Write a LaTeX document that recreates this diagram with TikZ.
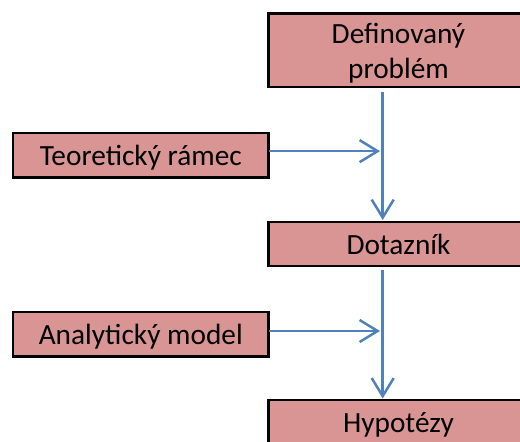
\documentclass[tikz,border=0pt]{standalone}
\usepackage{fontspec}
\setmainfont{Carlito}
\usetikzlibrary{arrows.meta}
\definecolor{boxfill}{HTML}{D99594}
\definecolor{arrblue}{HTML}{4F81BD}
\begin{document}
\begin{tikzpicture}[x=1pt,y=-1pt,
  box/.style={draw=black, line width=2.7pt, fill=boxfill, rectangle, inner sep=0pt, outer sep=0pt, anchor=north west, font=\fontsize{29.3}{35}\selectfont},
  oneline/.style={box, text height=20pt, text depth=0pt},
  arr/.style={draw=arrblue, line width=2.5pt, -{Straight Barb[length=18pt,width=22pt]}}]
\useasboundingbox (0,0) rectangle (520,442);
\clip (0,0) rectangle (520,442);
\node[box, minimum width=260pt, minimum height=73.5pt, align=center] (def) at (268.5,13.5) {\rule{0pt}{26pt}Definovaný\\problém};
\node[oneline, minimum width=255.5pt, minimum height=44.3pt] (teo) at (13,133) {Teoretický rámec};
\node[oneline, minimum width=260pt, minimum height=44pt] (dot) at (268.5,222) {Dotazník};
\node[oneline, minimum width=255.5pt, minimum height=44.5pt] (ana) at (13,312) {Analytický model};
\node[oneline, minimum width=260pt, minimum height=44pt] (hyp) at (268.5,400) {Hypotézy};
\coordinate (vx) at (382.7,0);
\draw[arr, shorten <=5pt, shorten >=2pt] (def.south -| vx) -- (dot.north -| vx);
\draw[arr, shorten >=2.7pt] ([yshift=4pt]teo.east) -- ([yshift=4pt]teo.east -| vx);
\draw[arr, shorten <=4pt, shorten >=1.5pt] (dot.south -| vx) -- (hyp.north -| vx);
\draw[arr, shorten >=2.7pt] ([yshift=3.25pt]ana.east) -- ([yshift=3.25pt]ana.east -| vx);
\end{tikzpicture}
\end{document}
